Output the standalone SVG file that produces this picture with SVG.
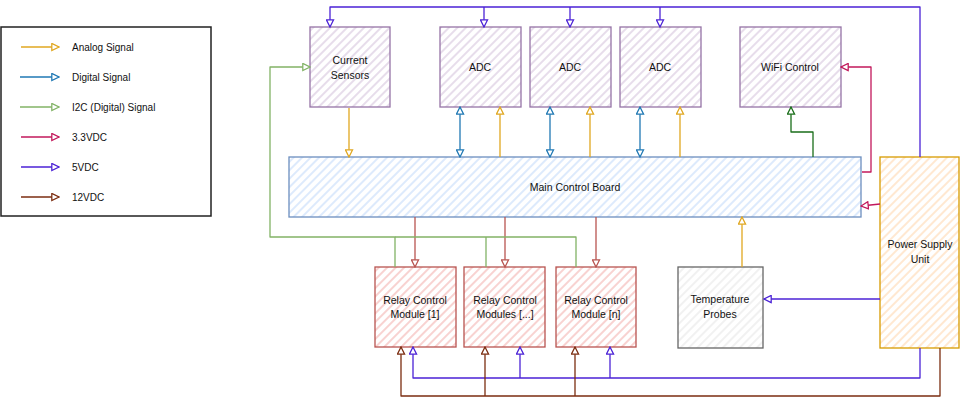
<svg xmlns="http://www.w3.org/2000/svg" width="961" height="406" viewBox="0 0 961 406">
<defs>
<style>
text{font-family:"Liberation Sans",Arial,sans-serif;font-size:10.5px;fill:#111;text-anchor:middle}
.lg{text-anchor:start;font-size:10px}
.w{fill:none;stroke-width:1.3;stroke-linejoin:round}
.an{stroke:#e0a720}.dg{stroke:#1f78b4}.i2{stroke:#82b366}.v3{stroke:#c2185b}.v5{stroke:#4b22d6}.v12{stroke:#7b2d10}.rl{stroke:#b85450}.gw{stroke:#1a6e1a}
</style>
<pattern id="hp" width="6" height="6" patternUnits="userSpaceOnUse" patternTransform="rotate(45)"><rect width="6" height="6" fill="#fff"/><line x1="1" y1="0" x2="1" y2="6" stroke="#e1d5e7" stroke-width="1.6"/></pattern>
<pattern id="hb" width="6" height="6" patternUnits="userSpaceOnUse" patternTransform="rotate(45)"><rect width="6" height="6" fill="#fff"/><line x1="1" y1="0" x2="1" y2="6" stroke="#dae8fc" stroke-width="1.8"/></pattern>
<pattern id="hr" width="6" height="6" patternUnits="userSpaceOnUse" patternTransform="rotate(45)"><rect width="6" height="6" fill="#fff"/><line x1="1" y1="0" x2="1" y2="6" stroke="#f8cecc" stroke-width="1.8"/></pattern>
<pattern id="ho" width="6" height="6" patternUnits="userSpaceOnUse" patternTransform="rotate(45)"><rect width="6" height="6" fill="#fff"/><line x1="1" y1="0" x2="1" y2="6" stroke="#ffe6cc" stroke-width="1.8"/></pattern>
<pattern id="hg" width="6" height="6" patternUnits="userSpaceOnUse" patternTransform="rotate(45)"><rect width="6" height="6" fill="#fff"/><line x1="1" y1="0" x2="1" y2="6" stroke="#eeeeee" stroke-width="1.6"/></pattern>
<marker id="mAn" viewBox="0 0 10 10" refX="9" refY="5" markerWidth="9" markerHeight="9" markerUnits="userSpaceOnUse" orient="auto-start-reverse"><path d="M1,1 L9,5 L1,9 Z" fill="#fff" stroke="#e0a720" stroke-width="1.4"/></marker>
<marker id="mDg" viewBox="0 0 10 10" refX="9" refY="5" markerWidth="9" markerHeight="9" markerUnits="userSpaceOnUse" orient="auto-start-reverse"><path d="M1,1 L9,5 L1,9 Z" fill="#fff" stroke="#1f78b4" stroke-width="1.4"/></marker>
<marker id="mI2" viewBox="0 0 10 10" refX="9" refY="5" markerWidth="9" markerHeight="9" markerUnits="userSpaceOnUse" orient="auto-start-reverse"><path d="M1,1 L9,5 L1,9 Z" fill="#fff" stroke="#82b366" stroke-width="1.4"/></marker>
<marker id="mV3" viewBox="0 0 10 10" refX="9" refY="5" markerWidth="9" markerHeight="9" markerUnits="userSpaceOnUse" orient="auto-start-reverse"><path d="M1,1 L9,5 L1,9 Z" fill="#fff" stroke="#c2185b" stroke-width="1.4"/></marker>
<marker id="mV5" viewBox="0 0 10 10" refX="9" refY="5" markerWidth="9" markerHeight="9" markerUnits="userSpaceOnUse" orient="auto-start-reverse"><path d="M1,1 L9,5 L1,9 Z" fill="#fff" stroke="#4b22d6" stroke-width="1.4"/></marker>
<marker id="mV12" viewBox="0 0 10 10" refX="9" refY="5" markerWidth="9" markerHeight="9" markerUnits="userSpaceOnUse" orient="auto-start-reverse"><path d="M1,1 L9,5 L1,9 Z" fill="#fff" stroke="#7b2d10" stroke-width="1.4"/></marker>
<marker id="mRl" viewBox="0 0 10 10" refX="9" refY="5" markerWidth="9" markerHeight="9" markerUnits="userSpaceOnUse" orient="auto-start-reverse"><path d="M1,1 L9,5 L1,9 Z" fill="#fff" stroke="#b85450" stroke-width="1.4"/></marker>
<marker id="mGw" viewBox="0 0 10 10" refX="9" refY="5" markerWidth="9" markerHeight="9" markerUnits="userSpaceOnUse" orient="auto-start-reverse"><path d="M1,1 L9,5 L1,9 Z" fill="#fff" stroke="#1a6e1a" stroke-width="1.4"/></marker>
</defs>
<rect width="961" height="406" fill="#fff"/>

<g id="legend">
<rect x="1" y="27" width="210" height="189" fill="#fff" stroke="#222" stroke-width="1.5"/>
<line class="w an" x1="21" y1="47" x2="59" y2="47" marker-end="url(#mAn)"/>
<line class="w dg" x1="20" y1="77" x2="59" y2="77" marker-end="url(#mDg)"/>
<line class="w i2" x1="20" y1="107" x2="59" y2="107" marker-end="url(#mI2)"/>
<line class="w v3" x1="21" y1="137" x2="59" y2="137" marker-end="url(#mV3)"/>
<line class="w v5" x1="21" y1="167" x2="59" y2="167" marker-end="url(#mV5)"/>
<line class="w v12" x1="21" y1="197" x2="59" y2="197" marker-end="url(#mV12)"/>
<text class="lg" x="72" y="51">Analog Signal</text>
<text class="lg" x="72" y="81">Digital Signal</text>
<text class="lg" x="72" y="111">I2C (Digital) Signal</text>
<text class="lg" x="72" y="141">3.3VDC</text>
<text class="lg" x="72" y="171">5VDC</text>
<text class="lg" x="72" y="201">12VDC</text>
</g>

<g id="current-sensors"><rect x="310" y="27" width="80" height="80" fill="url(#hp)" stroke="#9673a6" stroke-width="1.3"/><text x="350" y="64">Current</text><text x="350" y="79">Sensors</text></g>
<g id="adc-1"><rect x="440" y="27" width="81" height="80" fill="url(#hp)" stroke="#9673a6" stroke-width="1.3"/><text x="480" y="71">ADC</text></g>
<g id="adc-2"><rect x="530" y="27" width="81" height="80" fill="url(#hp)" stroke="#9673a6" stroke-width="1.3"/><text x="570" y="71">ADC</text></g>
<g id="adc-3"><rect x="620" y="27" width="81" height="80" fill="url(#hp)" stroke="#9673a6" stroke-width="1.3"/><text x="660" y="71">ADC</text></g>
<g id="wifi-control"><rect x="740" y="27" width="101" height="80" fill="url(#hp)" stroke="#9673a6" stroke-width="1.3"/><text x="790" y="71">WiFi Control</text></g>
<g id="main-control-board"><rect x="289" y="157" width="572" height="60" fill="url(#hb)" stroke="#6c8ebf" stroke-width="1.3"/><text x="575" y="191">Main Control Board</text></g>
<g id="power-supply-unit"><rect x="880" y="157" width="79" height="191" fill="url(#ho)" stroke="#d79b00" stroke-width="1.3"/><text x="920" y="248">Power Supply</text><text x="920" y="263">Unit</text></g>
<g id="temperature-probes"><rect x="678" y="267" width="85" height="81" fill="url(#hg)" stroke="#666" stroke-width="1.3"/><text x="720" y="303">Temperature</text><text x="720" y="318">Probes</text></g>
<g id="relay-1"><rect x="375" y="267" width="81" height="80" fill="url(#hr)" stroke="#b85450" stroke-width="1.3"/><text x="415" y="304">Relay Control</text><text x="415" y="318">Module [1]</text></g>
<g id="relay-2"><rect x="464" y="267" width="81" height="80" fill="url(#hr)" stroke="#b85450" stroke-width="1.3"/><text x="505" y="304">Relay Control</text><text x="505" y="318">Modules [...]</text></g>
<g id="relay-n"><rect x="556" y="267" width="80" height="80" fill="url(#hr)" stroke="#b85450" stroke-width="1.3"/><text x="596" y="304">Relay Control</text><text x="596" y="318">Module [n]</text></g>

<g id="connectors">
<!-- 5VDC top -->
<path class="w v5" d="M920,157 L920,7 L330,7 L330,27" marker-end="url(#mV5)"/>
<path class="w v5" d="M484,7 L484,27" marker-end="url(#mV5)"/>
<path class="w v5" d="M570,7 L570,27" marker-end="url(#mV5)"/>
<path class="w v5" d="M660,7 L660,27" marker-end="url(#mV5)"/>
<!-- 5VDC to temp probes -->
<path class="w v5" d="M880,299 L764,299" marker-end="url(#mV5)"/>
<!-- 5VDC bottom -->
<path class="w v5" d="M920,348 L920,378 L413,378 L413,347" marker-end="url(#mV5)"/>
<path class="w v5" d="M520,378 L520,347" marker-end="url(#mV5)"/>
<path class="w v5" d="M610,378 L610,347" marker-end="url(#mV5)"/>
<!-- 12VDC bottom -->
<path class="w v12" d="M940,348 L940,396 L401,396 L401,347" marker-end="url(#mV12)"/>
<path class="w v12" d="M485,396 L485,347" marker-end="url(#mV12)"/>
<path class="w v12" d="M575,396 L575,347" marker-end="url(#mV12)"/>
<!-- 3.3VDC -->
<path class="w v3" d="M880,204 L861,206" marker-end="url(#mV3)"/>
<path class="w v3" d="M862,172 L871,172 L871,67 L841,67" marker-end="url(#mV3)"/>
<!-- relay control -->
<path class="w rl" d="M415,217 L415,267" marker-end="url(#mRl)"/>
<path class="w rl" d="M505,217 L505,267" marker-end="url(#mRl)"/>
<path class="w rl" d="M596,217 L596,267" marker-end="url(#mRl)"/>
<!-- I2C -->
<path class="w i2" d="M395,267 L395,237 L270,237 L270,67 L310,67" marker-end="url(#mI2)"/>
<path class="w i2" d="M395,237 L576,237 L576,267"/>
<path class="w i2" d="M486,237 L486,267"/>
<!-- analog -->
<path class="w an" d="M349,108 L349,157" marker-end="url(#mAn)"/>
<path class="w an" d="M500,157 L500,107" marker-end="url(#mAn)"/>
<path class="w an" d="M590,157 L590,107" marker-end="url(#mAn)"/>
<path class="w an" d="M680,157 L680,107" marker-end="url(#mAn)"/>
<path class="w an" d="M742,267 L742,217" marker-end="url(#mAn)"/>
<!-- digital -->
<path class="w dg" d="M460,107 L460,157" marker-start="url(#mDg)" marker-end="url(#mDg)"/>
<path class="w dg" d="M550,107 L550,157" marker-start="url(#mDg)" marker-end="url(#mDg)"/>
<path class="w dg" d="M640,107 L640,157" marker-start="url(#mDg)" marker-end="url(#mDg)"/>
<!-- wifi -->
<path class="w gw" d="M813,157 L813,132 L791,132 L791,107" marker-end="url(#mGw)"/>
</g>
</svg>
